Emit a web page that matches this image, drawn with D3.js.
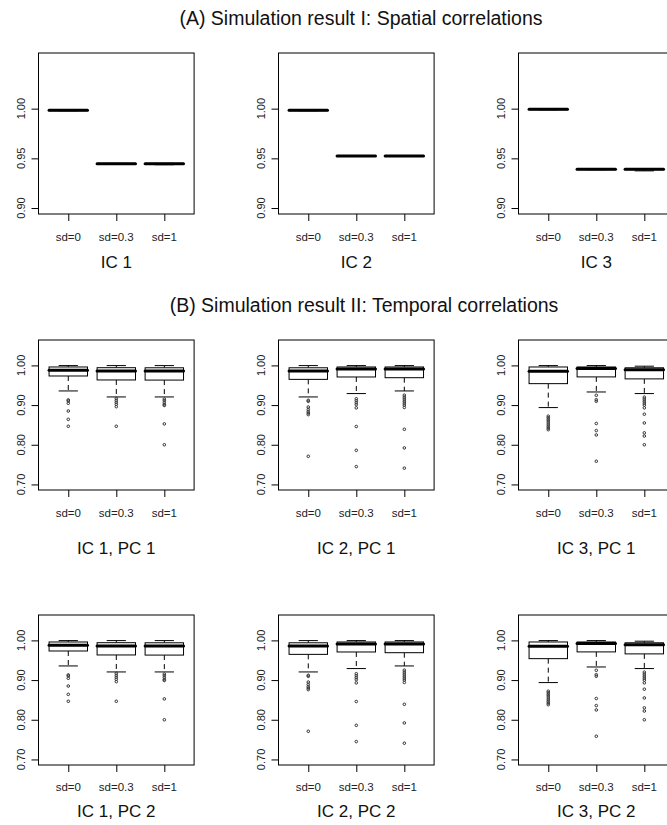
<!DOCTYPE html>
<html><head><meta charset="utf-8">
<script src="https://cdn.jsdelivr.net/npm/d3@7"></script>
<style>
html,body{margin:0;padding:0;background:#fff;}
svg{display:block;font-family:"Liberation Sans",Arial,sans-serif;}
</style></head>
<body><svg id="chart" width="667" height="825"></svg>
<script>
// ---------------- data ----------------
const categories = ["sd=0", "sd=0.3", "sd=1"];
const spatialTitles = ["IC 1", "IC 2", "IC 3"];
const temporalTitlesPC1 = ["IC 1, PC 1", "IC 2, PC 1", "IC 3, PC 1"];
const temporalTitlesPC2 = ["IC 1, PC 2", "IC 2, PC 2", "IC 3, PC 2"];
const spatialTicks = [0.90, 0.95, 1.00];
const temporalTicks = [0.70, 0.80, 0.90, 1.00];
const spatialLimits = [0.90, 1.05];
const temporalLimits = [0.70, 1.05];

// boxplot stats: [lower whisker, Q1, median, Q3, upper whisker]
const spatialIC1 = [[0.9979, 0.9979, 0.9983, 0.9987, 0.9987], [0.9441, 0.9441, 0.9445, 0.9449, 0.9449], [0.9436, 0.9441, 0.9445, 0.9449, 0.9449]];
const spatialIC2 = [[0.9979, 0.9979, 0.9983, 0.9987, 0.9987], [0.9519, 0.9519, 0.9523, 0.9527, 0.9527], [0.9519, 0.9519, 0.9523, 0.9527, 0.9527]];
const spatialIC3 = [[0.9989, 0.9989, 0.9993, 0.9997, 0.9997], [0.9386, 0.9386, 0.9390, 0.9394, 0.9394], [0.9374, 0.9386, 0.9390, 0.9394, 0.9394]];

const temporalIC1Stats = [[0.9356, 0.9733, 0.9875, 0.9960, 0.9995], [0.9205, 0.9633, 0.9860, 0.9942, 0.9995], [0.9205, 0.9630, 0.9860, 0.9940, 0.9995]];
const temporalIC1Out = [[0.913, 0.9105, 0.9045, 0.885, 0.864, 0.8466], [0.917, 0.912, 0.907, 0.902, 0.896, 0.8466], [0.915, 0.911, 0.906, 0.901, 0.899, 0.8526, 0.800]];
const temporalIC2Stats = [[0.9205, 0.9648, 0.9860, 0.9940, 0.9995], [0.9290, 0.9708, 0.9910, 0.9960, 0.9995], [0.9356, 0.9690, 0.9910, 0.9960, 0.9995]];
const temporalIC2Out = [[0.912, 0.9095, 0.895, 0.889, 0.884, 0.880, 0.876, 0.771], [0.916, 0.911, 0.906, 0.901, 0.893, 0.846, 0.786, 0.745], [0.925, 0.920, 0.915, 0.910, 0.905, 0.900, 0.894, 0.839, 0.792, 0.741]];
const temporalIC3Stats = [[0.8937, 0.9540, 0.9850, 0.9960, 0.9995], [0.9330, 0.9710, 0.9920, 0.9960, 0.9995], [0.9290, 0.9660, 0.9890, 0.9940, 0.9980]];
const temporalIC3Out = [[0.872, 0.868, 0.864, 0.860, 0.855, 0.850, 0.846, 0.842, 0.838], [0.9247, 0.9135, 0.9096, 0.8536, 0.8357, 0.8247, 0.7585], [0.920, 0.915, 0.910, 0.905, 0.900, 0.893, 0.877, 0.855, 0.830, 0.822, 0.800]];

// ---------------- drawing ----------------
const svg = d3.select("#chart");
svg.append("rect").attr("width", 667).attr("height", 825).attr("fill", "#fff");

const panelOffsets = [0, 240, 480];
const xRange = [38.5, 194.1];

function extend(lim) { const r = lim[1] - lim[0]; return [lim[0] - 0.04 * r, lim[1] + 0.04 * r]; }

function drawPanel(ox, top, bottom, lim, ticks, stats, outs, title, labelBase, titleBase) {
  const g = svg.append("g").attr("transform", `translate(${ox},0)`);
  const x = d3.scaleLinear().domain([0.38, 3.62]).range(xRange);
  const y = d3.scaleLinear().domain(extend(lim)).range([bottom, top]);
  const bw = (x(1.4) - x(1)); // half box width (boxwex 0.8)
  const sw = bw / 2; // staple half width

  g.append("rect").attr("x", xRange[0]).attr("y", top).attr("width", xRange[1] - xRange[0]).attr("height", bottom - top)
    .attr("fill", "none").attr("stroke", "#000").attr("stroke-width", 1);

  const ya = d3.axisLeft(y).tickValues(ticks).tickFormat(d3.format(".2f")).tickSize(7).tickPadding(0);
  const yg = g.append("g").attr("transform", `translate(${xRange[0]},0)`).call(ya);
  yg.select(".domain").remove();
  yg.selectAll(".tick line").attr("stroke", "#000");
  yg.selectAll(".tick text").remove();
  ticks.forEach(t => {
    g.append("text").attr("transform", `translate(${xRange[0] - 13.5},${y(t)}) rotate(-90)`)
      .attr("text-anchor", "middle").attr("font-size", 11).attr("fill", "#222").text(d3.format(".2f")(t));
  });

  const xa = d3.axisBottom(x).tickValues([1, 2, 3]).tickFormat("").tickSize(7);
  const xg = g.append("g").attr("transform", `translate(0,${bottom})`).call(xa);
  xg.select(".domain").remove();
  xg.selectAll(".tick line").attr("stroke", "#000");
  categories.forEach((c, i) => {
    g.append("text").attr("x", x(i + 1)).attr("y", labelBase).attr("text-anchor", "middle")
      .attr("font-size", 11.5).attr("fill", "#222").text(c);
  });
  g.append("text").attr("x", (xRange[0] + xRange[1]) / 2).attr("y", titleBase).attr("text-anchor", "middle")
    .attr("font-size", 17).attr("fill", "#111").text(title);

  stats.forEach((s, i) => {
    const cx = x(i + 1);
    const [lo, q1, med, q3, hi] = s;
    g.append("line").attr("x1", cx).attr("x2", cx).attr("y1", y(q1)).attr("y2", y(lo))
      .attr("stroke", "#000").attr("stroke-dasharray", "5,4");
    g.append("line").attr("x1", cx).attr("x2", cx).attr("y1", y(q3)).attr("y2", y(hi))
      .attr("stroke", "#000").attr("stroke-dasharray", "5,4");
    [lo, hi].forEach(v => g.append("line").attr("x1", cx - sw).attr("x2", cx + sw).attr("y1", y(v)).attr("y2", y(v)).attr("stroke", "#000"));
    g.append("rect").attr("x", cx - bw).attr("y", y(q3)).attr("width", 2 * bw).attr("height", Math.max(0, y(q1) - y(q3)))
      .attr("fill", "#fff").attr("stroke", "#000").attr("stroke-width", 1);
    g.append("line").attr("x1", cx - bw).attr("x2", cx + bw).attr("y1", y(med)).attr("y2", y(med))
      .attr("stroke", "#000").attr("stroke-width", 3).attr("stroke-linecap", "round");
    (outs ? outs[i] : []).forEach(v => {
      g.append("circle").attr("cx", cx).attr("cy", y(v)).attr("r", 1.3)
        .attr("fill", "none").attr("stroke", "#333").attr("stroke-width", 1);
    });
  });
}

svg.append("text").attr("x", 361).attr("y", 25).attr("text-anchor", "middle").attr("font-size", 19.5).attr("fill", "#111")
  .text("(A) Simulation result I: Spatial correlations");
svg.append("text").attr("x", 364).attr("y", 312).attr("text-anchor", "middle").attr("font-size", 19.5).attr("fill", "#111")
  .text("(B) Simulation result II: Temporal correlations");

const spatialSets = [spatialIC1, spatialIC2, spatialIC3];
spatialSets.forEach((s, k) => drawPanel(panelOffsets[k], 53, 214, spatialLimits, spatialTicks, s, null, spatialTitles[k], 241, 268));

const temporalStats = [temporalIC1Stats, temporalIC2Stats, temporalIC3Stats];
const temporalOuts = [temporalIC1Out, temporalIC2Out, temporalIC3Out];
temporalStats.forEach((s, k) => drawPanel(panelOffsets[k], 340, 490, temporalLimits, temporalTicks, s, temporalOuts[k], temporalTitlesPC1[k], 517, 554));
// PC 2 row (values read as identical to PC 1 in the reference)
temporalStats.forEach((s, k) => drawPanel(panelOffsets[k], 615, 765, temporalLimits, temporalTicks, s, temporalOuts[k], temporalTitlesPC2[k], 791, 817));
</script></body></html>
